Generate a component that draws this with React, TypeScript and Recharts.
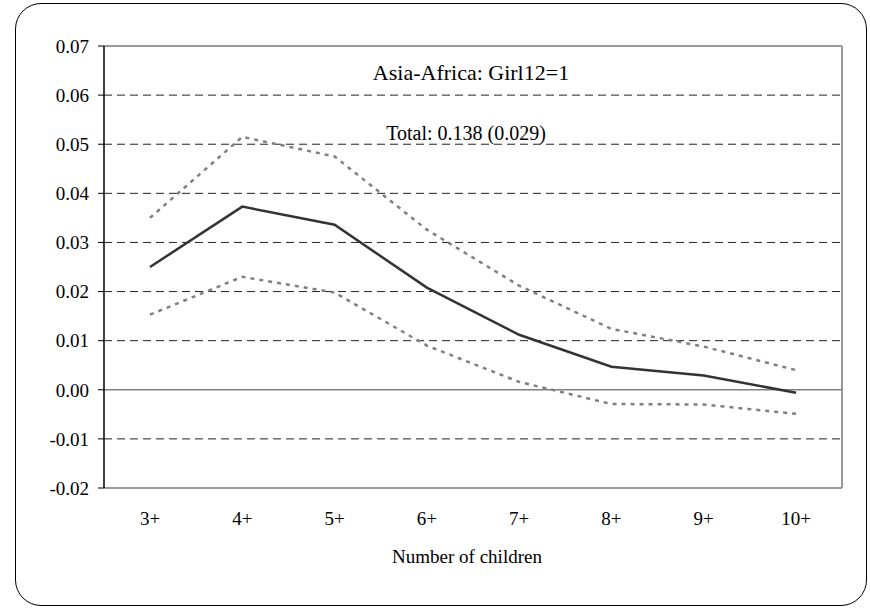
import React from 'react';
import { LineChart, Line, XAxis, YAxis, ReferenceLine, CartesianGrid, Customized, Label } from 'recharts';

const categories = ['3+', '4+', '5+', '6+', '7+', '8+', '9+', '10+'];
const estimate = [0.025, 0.0373, 0.0336, 0.0208, 0.0112, 0.0047, 0.0029, -0.0006];
const upperBound = [0.035, 0.0515, 0.0475, 0.0326, 0.0212, 0.0124, 0.0088, 0.004];
const lowerBound = [0.0153, 0.023, 0.0198, 0.009, 0.0016, -0.0029, -0.003, -0.0049];
const yTicks = [-0.02, -0.01, 0, 0.01, 0.02, 0.03, 0.04, 0.05, 0.06, 0.07];
const dashedGrid = [-0.01, 0.01, 0.02, 0.03, 0.04, 0.05, 0.06];
const yMin = -0.02;
const yMax = 0.07;
const titleText = 'Asia-Africa: Girl12=1';
const subtitleText = 'Total: 0.138 (0.029)';
const xAxisTitle = 'Number of children';

const data = categories.map((c, i) => ({
  cat: c,
  est: estimate[i],
  hi: upperBound[i],
  lo: lowerBound[i],
}));

const FONT = '"Liberation Serif", "Times New Roman", serif';

const Titles = () => (
  <g>
    <text x={471} y={72} textAnchor="middle" dominantBaseline="central" fontFamily={FONT} fontSize={22} fill="#000">
      {titleText}
    </text>
    <text x={466} y={133} textAnchor="middle" dominantBaseline="central" fontFamily={FONT} fontSize={20} fill="#000">
      {subtitleText}
    </text>
  </g>
);

const rightEdge = (props: any) => {
  const o = props && props.offset ? props.offset : { left: 104, width: 738 };
  return [o.left + o.width];
};

export default function App() {
  return (
    <div style={{ position: 'fixed', left: 0, top: 0, width: 870, height: 608, background: '#fff' }}>
      <div
        style={{
          position: 'absolute',
          left: 15,
          top: 3,
          width: 852,
          height: 603,
          border: '1.5px solid #000',
          borderRadius: 26,
          boxSizing: 'border-box',
        }}
      />
      <div style={{ position: 'absolute', left: 0, top: 0 }}>
        <LineChart width={870} height={608} data={data} margin={{ top: 46, right: 28, bottom: 45, left: 44 }}>
          <CartesianGrid
            horizontal={false}
            vertical
            verticalCoordinatesGenerator={rightEdge}
            stroke="#999"
            strokeWidth={2}
          />
          {dashedGrid.map((v) => (
            <ReferenceLine key={v} y={v} stroke="#222" strokeDasharray="8 5" strokeWidth={1} />
          ))}
          <ReferenceLine y={0} stroke="#808080" strokeWidth={1.5} />
          <ReferenceLine y={yMax} stroke="#999" strokeWidth={2} />
          <XAxis
            dataKey="cat"
            padding={{ left: 46, right: 46 }}
            axisLine={{ stroke: '#999', strokeWidth: 2 }}
            tickLine={false}
            tickSize={0}
            tickMargin={24}
            height={75}
            tick={{ fontFamily: FONT, fontSize: 19, fill: '#000' }}
            interval={0}
          >
            <Label value={xAxisTitle} position="insideBottom" offset={0} dx={-6} fontFamily={FONT} fontSize={19} fill="#000" />
          </XAxis>
          <YAxis
            domain={[yMin, yMax]}
            ticks={yTicks}
            type="number"
            width={60}
            tickSize={6}
            tickMargin={9}
            axisLine={{ stroke: '#000', strokeWidth: 1.5 }}
            tickLine={{ stroke: '#000', strokeWidth: 1 }}
            tickFormatter={(v: number) => v.toFixed(2)}
            tick={{ fontFamily: FONT, fontSize: 19, fill: '#000' }}
            interval={0}
          />
          <Line dataKey="hi" stroke="#808080" strokeWidth={2.5} strokeDasharray="4 5" dot={false} isAnimationActive={false} />
          <Line dataKey="lo" stroke="#808080" strokeWidth={2.5} strokeDasharray="4 5" dot={false} isAnimationActive={false} />
          <Line dataKey="est" stroke="#333" strokeWidth={2.5} dot={false} isAnimationActive={false} />
          <Customized component={Titles} />
        </LineChart>
      </div>
    </div>
  );
}
